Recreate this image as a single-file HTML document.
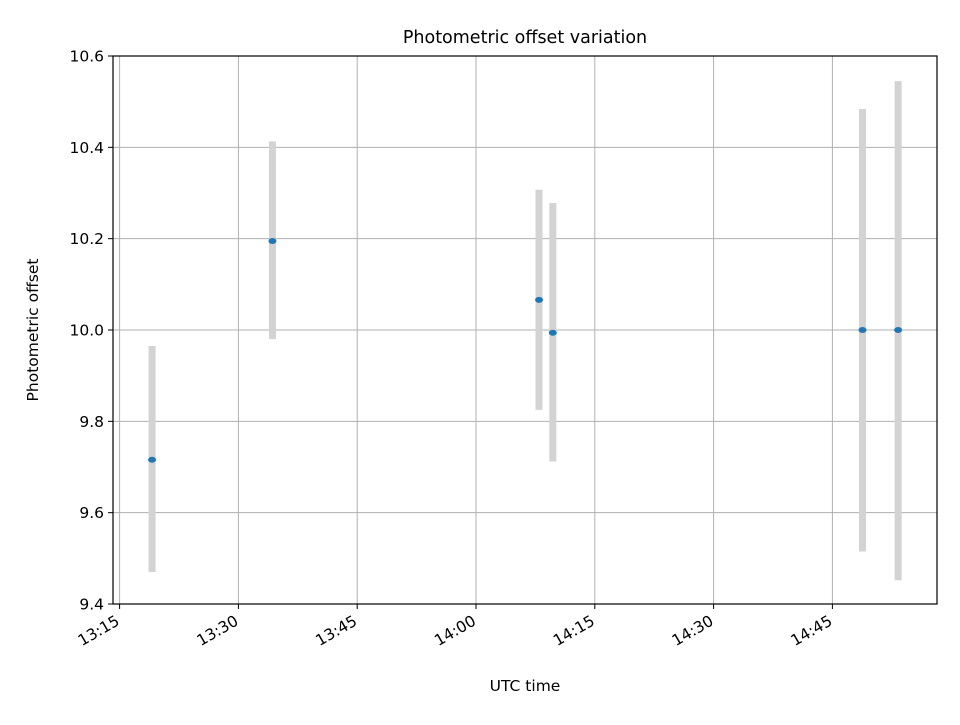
<!DOCTYPE html>
<html><head><meta charset="utf-8"><style>
body{margin:0;background:#fff;}
svg text{font-family:"DejaVu Sans","Liberation Sans",sans-serif;fill:#000;}
</style></head><body>
<svg id="chart" width="960" height="720" xmlns="http://www.w3.org/2000/svg">
<rect width="960" height="720" fill="#fff"/>
<text x="525" y="43" font-size="17.5" text-anchor="middle">Photometric offset variation</text>
<g id="grid"></g><g id="marks"></g><g id="axes"></g>
<text x="525" y="691" font-size="15.5" text-anchor="middle">UTC time</text>
<text transform="translate(38,330) rotate(-90)" font-size="15.5" text-anchor="middle">Photometric offset</text>
</svg>
<script>
const times = [19.1, 34.3, 67.96, 69.7, 108.8, 113.3]; // minutes after 13:00
const offsets = [9.716, 10.195, 10.066, 9.994, 10.0, 10.0];
const errLow = [9.47, 9.98, 9.825, 9.712, 9.515, 9.452];
const errHigh = [9.965, 10.413, 10.307, 10.278, 10.484, 10.545];
const xTicks = [15, 30, 45, 60, 75, 90, 105];
const xTickLabels = ["13:15","13:30","13:45","14:00","14:15","14:30","14:45"];
const yTicks = [9.4, 9.6, 9.8, 10.0, 10.2, 10.4, 10.6];
const yTickLabels = ["9.4","9.6","9.8","10.0","10.2","10.4","10.6"];

const L=113,R=937,T=56,B=604;
const x = m => 119.6 + (m-15)*(118.8/15);
const y = v => B - (v-9.4)/(1.2)*(B-T);
const NS="http://www.w3.org/2000/svg";
function mk(tag,attrs,parent){const e=document.createElementNS(NS,tag);for(const k in attrs)e.setAttribute(k,attrs[k]);parent.appendChild(e);return e;}
const grid=document.getElementById('grid'),marks=document.getElementById('marks'),axes=document.getElementById('axes');
xTicks.forEach((t,i)=>{
  const gl=mk('line',{x1:x(t),x2:x(t),y1:T,y2:B,stroke:'#b0b0b0','stroke-width':1},grid);
  
  
  const tk=mk('line',{x1:x(t),x2:x(t),y1:B,y2:B+5,stroke:'#000','stroke-width':1},axes);
  
  
  const ax=x(t)+1, ay=B+20;
  const tx=mk('text',{x:ax,y:ay,'font-size':15.5,'text-anchor':'end',transform:`rotate(-30 ${ax} ${ay})`},axes);
  tx.textContent=xTickLabels[i];
  
  
});
yTicks.forEach((t,i)=>{
  const gl=mk('line',{x1:L,x2:R,y1:y(t),y2:y(t),stroke:'#b0b0b0','stroke-width':1},grid);
  
  
  const tk=mk('line',{x1:L-5,x2:L,y1:y(t),y2:y(t),stroke:'#000','stroke-width':1},axes);
  
  
  const tx=mk('text',{x:L-9,y:y(t)+5.5,'font-size':15.5,'text-anchor':'end'},axes);
  tx.textContent=yTickLabels[i];
  
  
});
times.forEach((t,i)=>{
  const eb=mk('line',{x1:x(t),x2:x(t),y1:y(errLow[i]),y2:y(errHigh[i]),stroke:'#d3d3d3','stroke-width':7},marks);
  
  
  const p=mk('ellipse',{cx:x(t),cy:y(offsets[i]),rx:4,ry:3,fill:'#1f77b4'},marks);
  
  
});
const fr=mk('rect',{x:L,y:T,width:R-L,height:B-T,fill:'none',stroke:'#000','stroke-width':1.2},axes);


</script>
</body></html>
